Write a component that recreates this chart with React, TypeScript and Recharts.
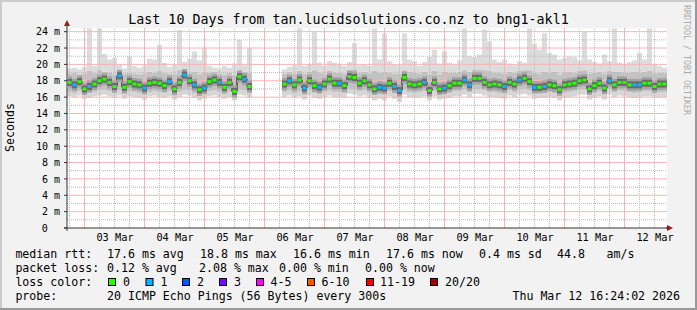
import React from 'react';
import { ComposedChart, Bar, Line, XAxis, YAxis, ReferenceLine, ReferenceDot } from 'recharts';

// ---------- data (one slot = 2 hours, 120 slots = 10 days) ----------
const medianMs: (number | null)[] = [
  17.8, 17.5, 17.9, 17.0, 17.3, 17.6, 18.0, 18.2, 17.8, 17.3,
  18.6, 17.2, 17.9, 17.6, 17.5, 17.1, 17.7, 17.8, 17.7, 17.4,
  17.9, 17.0, 17.8, 18.7, 18.0, 17.5, 16.9, 17.1, 17.9, 18.1,
  17.8, 17.2, 17.8, 16.7, 18.5, 18.2, 17.3, null, null, null,
  null, null, null, 17.6, 18.0, 17.5, 18.1, 17.1, 18.0, 17.4,
  17.2, 17.6, 18.2, 17.7, 17.7, 17.4, 18.5, 18.4, 17.7, 18.0,
  17.5, 17.0, 17.2, 17.1, 17.7, 17.3, 16.8, 18.4, 17.6, 17.5,
  17.6, 17.8, 16.8, 17.8, 17.0, 17.1, 17.4, 17.7, 17.7, 18.1,
  17.5, 18.3, 18.3, 17.8, 17.5, 17.6, 17.5, 17.3, 17.8, 17.6,
  18.1, 18.3, 17.9, 17.2, 17.2, 17.3, 17.5, 17.4, 16.9, 17.5,
  17.6, 17.7, 18.0, 18.1, 17.0, 17.4, 17.7, 17.1, 18.0, 17.5,
  17.8, 17.8, 17.5, 17.5, 17.5, 17.7, 17.7, 17.3, 17.6, 17.6,
];

const lossCount: (number | null)[] = [
  0, 1, 0, 0, 1, 0, 0, 0, 0, 0,
  1, 0, 0, 0, 0, 1, 0, 0, 0, 0,
  1, 0, 0, 1, 0, 1, 0, 1, 0, 0,
  1, 0, 0, 0, 0, 1, 0, null, null, null,
  null, null, null, 0, 1, 0, 0, 1, 0, 0,
  1, 0, 0, 0, 1, 0, 0, 0, 0, 0,
  0, 0, 1, 1, 0, 1, 1, 0, 0, 0,
  0, 1, 0, 0, 0, 1, 0, 0, 0, 1,
  1, 0, 0, 0, 0, 0, 0, 1, 0, 0,
  1, 0, 0, 1, 0, 1, 0, 0, 0, 0,
  0, 0, 0, 0, 0, 0, 0, 0, 1, 0,
  0, 0, 0, 1, 1, 0, 0, 0, 0, 0,
];

const maxMs: (number | null)[] = [
  19.5, 19.6, 19.4, 19.7, 24.4, 19.8, 24.4, 21.3, 20.6, 20.8,
  20.0, 19.5, 21.0, 19.8, 19.6, 19.9, 20.7, 20.6, 22.4, 20.2,
  19.7, 19.9, 24.2, 20.3, 20.7, 21.6, 20.5, 22.0, 19.8, 19.6,
  19.5, 19.8, 19.6, 20.1, 23.0, 19.9, 22.0, null, null, null,
  null, null, null, 19.4, 19.7, 19.9, 24.4, 19.8, 20.0, 24.0,
  20.2, 19.8, 20.4, 20.2, 20.0, 19.8, 20.3, 22.6, 19.9, 20.0,
  19.8, 24.4, 20.6, 23.8, 20.4, 20.0, 19.9, 23.8, 20.6, 20.4,
  19.8, 20.3, 20.9, 21.8, 20.1, 21.6, 20.2, 19.9, 20.5, 24.4,
  21.0, 20.9, 21.2, 24.3, 22.8, 20.6, 20.3, 20.6, 20.1, 19.9,
  20.4, 20.2, 24.4, 22.5, 21.8, 23.8, 21.4, 21.2, 20.6, 20.8,
  21.0, 20.9, 20.5, 24.0, 20.6, 20.3, 20.1, 21.2, 20.4, 24.4,
  20.2, 20.0, 20.3, 20.5, 21.4, 20.6, 24.4, 20.0, 19.8, 19.6,
];

const hiMs: (number | null)[] = [
  18.9, 19.0, 18.8, 18.9, 19.2, 19.0, 19.3, 19.1, 19.0, 18.8,
  19.2, 18.9, 19.0, 18.9, 18.8, 18.9, 19.1, 19.0, 19.2, 19.0,
  18.9, 18.8, 19.3, 19.2, 19.0, 19.1, 18.8, 19.0, 19.0, 19.1,
  18.9, 18.8, 19.0, 18.7, 19.3, 19.1, 19.0, null, null, null,
  null, null, null, 18.9, 19.1, 18.9, 19.2, 18.9, 19.1, 19.3,
  19.0, 18.9, 19.2, 19.0, 19.0, 18.9, 19.3, 19.4, 19.0, 19.1,
  18.9, 19.2, 19.0, 19.1, 19.0, 18.9, 18.9, 19.3, 19.1, 19.0,
  18.9, 19.1, 18.8, 19.2, 18.8, 19.1, 19.0, 19.0, 19.1, 19.3,
  19.1, 19.4, 19.4, 19.3, 19.2, 19.0, 19.0, 18.9, 19.1, 19.0,
  19.2, 19.3, 19.3, 19.0, 18.9, 19.1, 19.0, 19.1, 18.8, 19.0,
  19.1, 19.0, 19.2, 19.3, 18.9, 19.0, 19.1, 18.9, 19.2, 19.1,
  19.1, 19.0, 19.0, 19.1, 19.0, 19.1, 19.2, 18.9, 19.0, 19.0,
];

const loMs: (number | null)[] = [
  16.6, 16.5, 16.7, 16.3, 16.5, 16.6, 16.8, 16.9, 16.7, 16.5,
  16.8, 16.4, 16.7, 16.6, 16.5, 16.3, 16.6, 16.7, 16.6, 16.5,
  16.7, 16.3, 16.6, 16.9, 16.8, 16.5, 16.2, 16.4, 16.7, 16.8,
  16.6, 16.4, 16.6, 16.1, 16.9, 16.8, 16.5, null, null, null,
  null, null, null, 16.6, 16.8, 16.5, 16.7, 16.3, 16.8, 16.5,
  16.4, 16.6, 16.8, 16.6, 16.6, 16.5, 17.0, 16.9, 16.7, 16.8,
  16.5, 16.3, 16.4, 16.3, 16.7, 16.4, 16.1, 16.9, 16.6, 16.5,
  16.6, 16.7, 16.2, 16.7, 16.3, 16.4, 16.5, 16.7, 16.7, 16.9,
  16.6, 17.0, 17.0, 16.8, 16.6, 16.6, 16.5, 16.4, 16.8, 16.6,
  16.9, 17.0, 16.8, 16.4, 16.5, 16.5, 16.6, 16.5, 16.2, 16.5,
  16.6, 16.7, 16.9, 16.9, 16.3, 16.5, 16.7, 16.3, 16.9, 16.6,
  16.8, 16.7, 16.6, 16.5, 16.6, 16.7, 16.7, 16.5, 16.6, 16.6,
];

const minMs: (number | null)[] = [
  16.1, 16.0, 16.2, 15.8, 15.9, 16.1, 16.2, 16.3, 16.1, 15.9,
  16.2, 15.8, 16.1, 16.0, 15.9, 15.7, 16.1, 16.2, 16.0, 15.9,
  16.1, 15.7, 16.0, 16.3, 16.2, 15.9, 15.6, 15.8, 16.1, 16.2,
  16.0, 15.8, 16.0, 15.6, 16.3, 16.2, 15.9, null, null, null,
  null, null, null, 16.0, 16.2, 15.9, 16.1, 15.7, 16.2, 15.9,
  15.8, 16.0, 16.2, 16.0, 16.0, 15.9, 16.4, 16.3, 16.1, 16.2,
  15.9, 15.6, 15.8, 15.6, 16.1, 15.8, 15.4, 16.3, 16.0, 15.9,
  16.0, 16.1, 15.6, 16.1, 15.7, 15.8, 15.9, 16.1, 16.1, 16.3,
  16.0, 16.4, 16.4, 16.2, 16.0, 16.0, 15.9, 15.8, 16.2, 16.0,
  16.3, 16.4, 16.2, 15.8, 15.9, 15.9, 16.0, 15.9, 15.6, 15.9,
  16.0, 16.1, 16.3, 16.3, 15.7, 15.9, 16.1, 15.7, 16.3, 16.0,
  16.2, 16.1, 16.0, 15.9, 16.0, 16.1, 16.1, 15.9, 16.0, 16.0,
];

// x axis: slot indices of noon (labels), midnights (major grid) and 6-hour marks (minor grid)
const dayLabels = ['03 Mar', '04 Mar', '05 Mar', '06 Mar', '07 Mar', '08 Mar', '09 Mar', '10 Mar', '11 Mar', '12 Mar'];
const noonSlots = [9, 21, 33, 45, 57, 69, 81, 93, 105, 117];
const midnightSlots = [3, 15, 27, 39, 51, 63, 75, 87, 99, 111];
const sixHourSlots = Array.from({ length: 40 }, (_, k) => 3 * k);
const minorSlots = sixHourSlots.filter((s) => !midnightSlots.includes(s));

// y axis
const yMajor = [0, 2, 4, 6, 8, 10, 12, 14, 16, 18, 20, 22, 24];
const yMinor = [1, 3, 5, 7, 9, 11, 13, 15, 17, 19, 21, 23];

// legend
const title = 'Last 10 Days from tan.lucidsolutions.co.nz to bng1-akl1';
const rttStats = ['17.6 ms avg', '18.8 ms max', '16.6 ms min', '17.6 ms now', '0.4 ms sd', '44.8', 'am/s'];
const lossStats = ['0.12 % avg', '2.08 % max', '0.00 % min', '0.00 % now'];
const lossLabels = ['0', '1', '2', '3', '4-5', '6-10', '11-19', '20/20'];
const lossColors = ['#26ff00', '#00b8ff', '#0059ff', '#7e00ff', '#ff00ff', '#ff5500', '#ff0000', '#a10000'];
const probeText = '20 ICMP Echo Pings (56 Bytes) every 300s';
const stampText = 'Thu Mar 12 16:24:02 2026';

// ---------- table for the chart ----------
const rows = medianMs.map((m, i) => {
  if (m == null) return { slot: i, med: null, loss: null, base: null, b1: null, b2: null, b3: null };
  const mn = minMs[i] as number, lo = loMs[i] as number, hi = hiMs[i] as number, mx = maxMs[i] as number;
  return { slot: i, med: m, loss: lossCount[i], base: mn, b1: lo - mn, b2: hi - lo, b3: mx - hi };
});

// ---------- styles ----------
const MONO = "'DejaVu Sans Mono', monospace";
const AXIS = '#333333';
const ARROW = '#8f1d1d';
const BG = '#f2f2f2';

const rttX = [107, 200, 293, 386, 479, 557, 606.5];
const lossX = [107, 199, 279, 365];
const boxX = [108, 145.5, 182, 219, 256, 307, 366, 430];
const boxLabelX = [123, 160.5, 197, 234, 270.5, 321.5, 380, 445];

const MinorGrid = (p: any) => (
  <line x1={p.x1} y1={p.y1} x2={p.x2} y2={p.y2} stroke="#bbbbbb" strokeWidth={1} strokeDasharray="1 1" />
);
const MajorGrid = (p: any) => (
  <line x1={p.x1} y1={p.y1} x2={p.x2} y2={p.y2} stroke="#f7b4b4" strokeWidth={1} />
);

const YTick = (p: any) => {
  const v = p.payload.value;
  return (
    <text x={v === 0 ? p.x - 14.3 : p.x - 2} y={p.y} dy="0.36em" textAnchor="end"
      fontFamily={MONO} fontSize={10} fill="#000">
      {v === 0 ? '0' : `${v} m`}
    </text>
  );
};

const XTick = (p: any) => {
  const idx = noonSlots.indexOf(p.payload.value);
  if (idx < 0) return <g />;
  return (
    <text x={p.x + 0.5} y={p.y + 13} textAnchor="middle" fontFamily={MONO} fontSize={10.3} fill="#000">
      {dayLabels[idx]}
    </text>
  );
};

const SmokeCore = (p: any) => {
  const { cx, cy, payload, key } = p;
  if (cx == null || cy == null || payload == null || payload.med == null) return <g key={key} />;
  return (
    <g key={key}>
      <rect x={cx - 2.5} y={cy - 6} width={5} height={12} fill="#a3a3a3" />
      <rect x={cx - 2.5} y={cy - 3.5} width={5} height={7} fill="#6a6a6a" />
    </g>
  );
};

const MedDot = (p: any) => {
  const { cx, cy, payload, key } = p;
  if (cx == null || cy == null || payload == null || payload.med == null) return <g key={key} />;
  return <rect key={key} x={cx - 2} y={cy - 1.5} width={4} height={3} fill={lossColors[payload.loss ?? 0]} />;
};

const TopArrow = (p: any) => {
  const x = p.cx - 2.5;
  return (
    <g>
      <line x1={x} y1={p.cy} x2={x} y2={p.cy - 3} stroke={AXIS} />
      <path d={`M${x - 3},${p.cy - 2} L${x + 3},${p.cy - 2} L${x},${p.cy - 8} Z`} fill={ARROW} />
    </g>
  );
};
const RightArrow = (p: any) => {
  const x = p.cx + 2.5;
  return (
    <g>
      <line x1={x - 1} y1={p.cy} x2={x + 1} y2={p.cy} stroke={AXIS} />
      <path d={`M${x},${p.cy - 3} L${x},${p.cy + 3} L${x + 6},${p.cy} Z`} fill={ARROW} />
    </g>
  );
};
const Origin = (p: any) => {
  const x = p.cx - 2.5;
  return (
    <g>
      <line x1={x - 3} y1={p.cy} x2={x} y2={p.cy} stroke={AXIS} />
      <line x1={x} y1={p.cy} x2={x} y2={p.cy + 3} stroke={AXIS} />
    </g>
  );
};

export default function App() {
  return (
    <div style={{ position: 'absolute', left: 0, top: 0, width: 697, height: 310, background: BG, overflow: 'hidden' }}>
      <div style={{ position: 'absolute', left: 0, top: 0, width: 697, height: 2, background: '#cbcbcb' }} />
      <div style={{ position: 'absolute', left: 0, top: 0, width: 2, height: 310, background: '#cbcbcb' }} />
      <div style={{ position: 'absolute', left: 0, top: 308, width: 697, height: 2, background: '#999999' }} />
      <div style={{ position: 'absolute', left: 695, top: 0, width: 2, height: 310, background: '#999999' }} />

      <div style={{ position: 'absolute', left: 0, top: 0 }}>
        <ComposedChart width={697} height={310} data={rows}
          margin={{ top: 28, right: 30, bottom: 62, left: 0 }} barCategoryGap={0} barGap={0}>
          <rect x={67} y={28} width={600} height={200} fill="#ffffff" />
          <XAxis dataKey="slot" type="category" interval={0} height={20} tick={<XTick />}
            tickLine={false} tickSize={0} tickMargin={0} axisLine={{ stroke: AXIS }} />
          <YAxis type="number" domain={[0, 24.45]} allowDataOverflow ticks={yMajor} interval={0} width={67}
            tick={<YTick />} tickSize={3} tickMargin={2} tickLine={{ stroke: AXIS }} axisLine={{ stroke: AXIS }} />

          {yMinor.map((v) => (
            <ReferenceLine key={'ym' + v} y={v} shape={MinorGrid} />
          ))}
          {minorSlots.map((s) => (
            <ReferenceLine key={'xm' + s} x={s} shape={MinorGrid} />
          ))}
          {yMajor.filter((v) => v > 0).map((v) => (
            <ReferenceLine key={'yM' + v} y={v} shape={MajorGrid} />
          ))}
          {midnightSlots.map((s) => (
            <ReferenceLine key={'xM' + s} x={s} shape={MajorGrid} />
          ))}

          <Bar dataKey="base" stackId="s" fill="none" isAnimationActive={false} />
          <Bar dataKey="b1" stackId="s" fill="#d6d6d6" isAnimationActive={false} />
          <Bar dataKey="b2" stackId="s" fill="#c2c2c2" isAnimationActive={false} />
          <Bar dataKey="b3" stackId="s" fill="#dcdcdc" isAnimationActive={false} />

          <Line dataKey="med" type="step" stroke="none" dot={SmokeCore} activeDot={false} isAnimationActive={false} />
          <Line dataKey="med" type="step" stroke="#000000" strokeWidth={1}
            dot={MedDot} activeDot={false} isAnimationActive={false} />

          <ReferenceDot x={0} y={24.45} r={0} ifOverflow="visible" shape={TopArrow} />
          <ReferenceDot x={119} y={0} r={0} ifOverflow="visible" shape={RightArrow} />
          <ReferenceDot x={0} y={0} r={0} ifOverflow="visible" shape={Origin} />
        </ComposedChart>
      </div>

      <svg width={697} height={310} style={{ position: 'absolute', left: 0, top: 0, pointerEvents: 'none' }}
        fontFamily={MONO}>
        <text x={348.5} y={24} textAnchor="middle" fontSize={13.3} fill="#000">{title}</text>
        <text transform="translate(14,127.5) rotate(-90)" textAnchor="middle" fontSize={11.6} fill="#000">Seconds</text>
        <text transform="translate(684,5) rotate(90)" fontSize={8.3} fill="#ababab">RRDTOOL / TOBI OETIKER</text>

        <g fontSize={11.6} fill="#000">
          <text x={15.4} y={258}>median rtt:</text>
          {rttStats.map((s, i) => <text key={'r' + i} x={rttX[i]} y={258}>{s}</text>)}
          <text x={15.4} y={272}>packet loss:</text>
          {lossStats.map((s, i) => <text key={'l' + i} x={lossX[i]} y={272}>{s}</text>)}
          <text x={15.4} y={286}>loss color:</text>
          {lossLabels.map((s, i) => (
            <g key={'c' + i}>
              <rect x={boxX[i] + 0.5} y={278.5} width={7} height={7} fill={lossColors[i]} stroke="#000" />
              <text x={boxLabelX[i]} y={286}>{s}</text>
            </g>
          ))}
          <text x={15.4} y={300}>probe:</text>
          <text x={107} y={300}>{probeText}</text>
          <text x={680} y={300} textAnchor="end">{stampText}</text>
        </g>
      </svg>
    </div>
  );
}
